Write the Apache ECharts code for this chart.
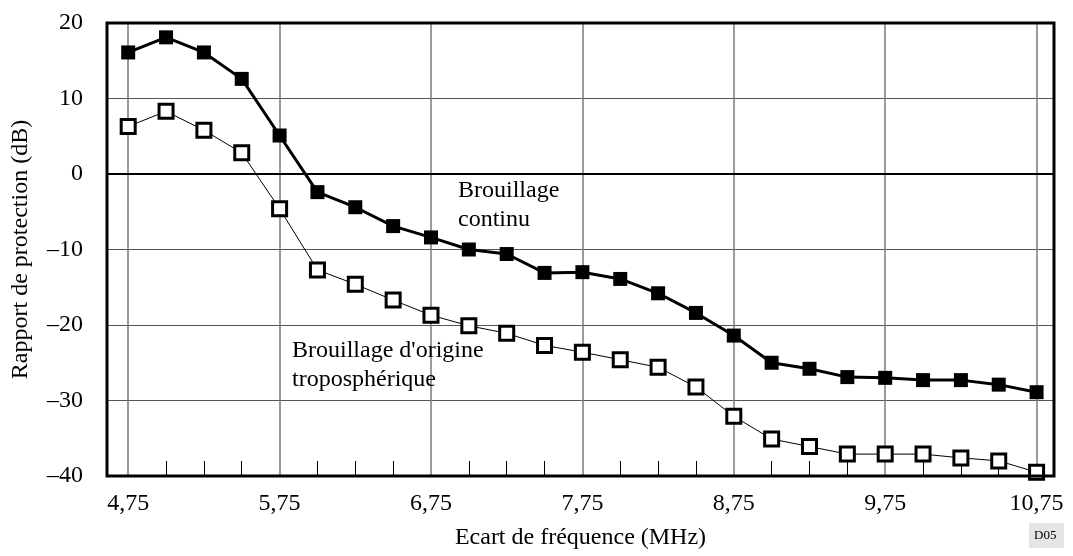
<!DOCTYPE html>
<html>
<head>
<meta charset="utf-8">
<script src="https://cdn.jsdelivr.net/npm/echarts@6/dist/echarts.min.js"></script>
<style>
html,body{margin:0;padding:0;background:#fff;}
#c{width:1073px;height:556px;}
</style>
</head>
<body>
<div id="c"></div>
<script>
const freq = [4.75,5.0,5.25,5.5,5.75,6.0,6.25,6.5,6.75,7.0,7.25,7.5,7.75,8.0,8.25,8.5,8.75,9.0,9.25,9.5,9.75,10.0,10.25,10.5,10.75];
const continu = [16.1,18.1,16.1,12.6,5.1,-2.4,-4.4,-6.9,-8.4,-10.0,-10.6,-13.1,-13.0,-13.9,-15.8,-18.4,-21.4,-25.0,-25.8,-26.9,-27.0,-27.3,-27.3,-27.9,-28.9];
const tropo = [6.3,8.3,5.8,2.8,-4.6,-12.7,-14.6,-16.7,-18.7,-20.1,-21.1,-22.7,-23.6,-24.6,-25.6,-28.2,-32.1,-35.1,-36.1,-37.1,-37.1,-37.1,-37.6,-38.0,-39.5];
const majorTicks = [4.75,5.75,6.75,7.75,8.75,9.75,10.75];
const minorTicks = freq.filter(f => majorTicks.indexOf(f) < 0);

const FONT = '"Liberation Serif", "Times New Roman", serif';
const chart = echarts.init(document.getElementById('c'));
const G = {left:107, top:23, right:19, bottom:80};

chart.setOption({
  animation: false,
  backgroundColor: '#fff',
  grid: {left:G.left, top:G.top, right:G.right, bottom:G.bottom, show:false},
  xAxis: [{
    type:'value', min:4.61, max:10.865, position:'bottom',
    axisLine:{show:false},
    axisTick:{show:false, customValues: majorTicks},
    axisLabel:{customValues: majorTicks, margin:16, color:'#000', fontFamily:FONT, fontSize:24,
      formatter: v => String(v).replace('.', ',')},
    splitLine:{show:true, lineStyle:{color:'#7a7a7a', width:1.5}},
    name:'Ecart de fréquence (MHz)', nameLocation:'middle', nameGap:50,
    nameTextStyle:{color:'#000', fontFamily:FONT, fontSize:24}
  },{
    type:'value', min:4.61, max:10.865, position:'bottom',
    axisLine:{show:false},
    axisTick:{show:true, inside:true, length:15, customValues: minorTicks, lineStyle:{color:'#000', width:1}},
    axisLabel:{show:false},
    splitLine:{show:false}
  }],
  yAxis: {
    type:'value', min:-40, max:20, interval:10,
    axisLine:{show:false}, axisTick:{show:false},
    axisLabel:{margin:24, color:'#000', fontFamily:FONT, fontSize:24,
      formatter: v => (v < 0 ? '\u2013' + Math.abs(v) : String(v))},
    splitLine:{show:true, lineStyle:{color:'#555', width:1}},
    name:'Rapport de protection (dB)', nameLocation:'middle', nameGap:74,
    nameTextStyle:{color:'#000', fontFamily:FONT, fontSize:24}
  },
  series: [{
    name:'Brouillage d\'origine troposphérique', type:'line', xAxisIndex:0,
    data: freq.map((f,i)=>[f, tropo[i]]),
    symbol:'rect', symbolSize:14,
    lineStyle:{color:'#000', width:1},
    itemStyle:{color:'#fff', borderColor:'#000', borderWidth:3},
    z:3,
    markLine:{silent:true, symbol:'none', label:{show:false},
      lineStyle:{color:'#000', width:2, type:'solid'}, data:[{yAxis:0}], z:1}
  },{
    name:'Brouillage continu', type:'line', xAxisIndex:0,
    data: freq.map((f,i)=>[f, continu[i]]),
    symbol:'rect', symbolSize:14,
    lineStyle:{color:'#000', width:3},
    itemStyle:{color:'#000', borderWidth:0},
    z:4
  }],
  graphic: [
    {type:'rect', z:100, silent:true,
      shape:{x:G.left, y:G.top, width:1073-G.left-G.right, height:556-G.top-G.bottom},
      style:{fill:null, stroke:'#000', lineWidth:3}},
    {type:'text', left:458, top:176, z:50,
      style:{text:'Brouillage\ncontinu', font:'24px ' + FONT, fill:'#000', lineHeight:29}},
    {type:'text', left:292, top:336, z:50,
      style:{text:'Brouillage d\'origine\ntroposphérique', font:'24px ' + FONT, fill:'#000', lineHeight:29}},
    {type:'rect', left:1029, top:523, z:50, shape:{width:35, height:25}, style:{fill:'#e5e5e5'}},
    {type:'text', left:1034, top:529, z:51, style:{text:'D05', font:'13px ' + FONT, fill:'#000'}}
  ]
});
</script>
</body>
</html>
